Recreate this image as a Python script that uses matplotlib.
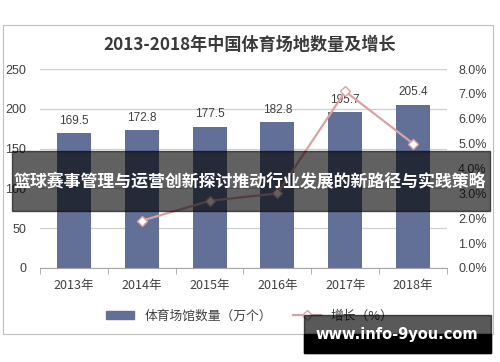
import matplotlib.pyplot as plt
from matplotlib.patches import Rectangle
from matplotlib.lines import Line2D
import numpy as np

plt.rcParams['font.family'] = ['Noto Sans CJK SC', 'DejaVu Sans']

years = ['2013年', '2014年', '2015年', '2016年', '2017年', '2018年']
venues = [169.5, 172.8, 177.5, 182.8, 195.7, 205.4]
growth_years = [1, 2, 3, 4, 5]
growth = [1.9, 2.7, 3.0, 7.1, 5.0]

W, H = 500, 362
fig = plt.figure(figsize=(5, 3.62), dpi=100)

def fx(px):
    return px / W

def fy(py):
    return 1 - py / H

# chart frame
fig.patches.append(Rectangle((fx(3), fy(334)), fx(490), 309 / H, transform=fig.transFigure,
                             fill=False, edgecolor='#bfbfbf', linewidth=0.8))

fig.text(0.5, fy(45), '2013-2018年中国体育场地数量及增长', ha='center', va='center',
         fontsize=12.3, fontweight='bold', color='#3a3a3a')

ax = fig.add_axes([fx(40), fy(268), fx(407), 199 / H])
x = np.arange(len(years))
bar_color = '#626f97'
ax.bar(x, venues, width=0.5, color=bar_color, zorder=2)
for xi, v in zip(x, venues):
    ax.text(xi, v + 8, f'{v}', ha='center', va='bottom', fontsize=8.5, color='#404040',
            family='Liberation Sans', zorder=4)
ax.set_xlim(-0.5, 5.5)
ax.set_ylim(0, 250)
ax.set_yticks([0, 50, 100, 150, 200, 250])
ax.grid(axis='y', color='#d0d0d0', linewidth=0.9, zorder=0)
for s in ['top', 'right', 'left']:
    ax.spines[s].set_visible(False)
ax.spines['bottom'].set_color('#a6a6a6')
ax.set_xticks(x)
ax.set_xticklabels(years)
ax.set_xticks(np.arange(-0.5, 6, 1), minor=True)
ax.tick_params(axis='x', which='major', length=0, pad=8, labelsize=9, colors='#404040')
ax.tick_params(axis='x', which='minor', length=4, color='#a6a6a6', direction='out')
ax.tick_params(axis='y', length=0, pad=10, labelsize=9, colors='#404040')
for lab in ax.get_yticklabels():
    lab.set_family('Liberation Sans')

ax2 = ax.twinx()
line_color = '#d9a3a5'
ax2.plot(growth_years, growth, color=line_color, linewidth=1.6, marker='D', markersize=5,
         markerfacecolor='white', markeredgecolor=line_color, markeredgewidth=1.0, zorder=3)
ax2.set_ylim(0, 8)
ax2.set_yticks(np.arange(0, 9, 1))
ax2.set_yticklabels([f'{v:.1f}%' for v in range(9)], family='Liberation Sans')
ax2.tick_params(axis='y', length=0, pad=8, labelsize=9, colors='#404040')
for s in ['top', 'right', 'left', 'bottom']:
    ax2.spines[s].set_visible(False)

# legend
handles = [Rectangle((0, 0), 1, 1, color=bar_color),
           Line2D([], [], color=line_color, linewidth=1.6, marker='D', markersize=5,
                  markerfacecolor='white', markeredgecolor=line_color)]
fig.legend(handles, ['体育场馆数量（万个）', '增长（%）'], loc='center',
           bbox_to_anchor=(0.5, fy(316)), ncol=2, frameon=False, fontsize=9.2,
           handlelength=2.2, handleheight=0.5, columnspacing=1.6, labelcolor='#404040')

# overlay banner
fig.patches.append(Rectangle((fx(12), fy(211)), fx(478), 60 / H, transform=fig.transFigure,
                             color='black', alpha=0.62, zorder=10))
fig.text(0.5, fy(182), '篮球赛事管理与运营创新探讨推动行业发展的新路径与实践策略', ha='center',
         va='center', fontsize=12.2, fontweight='bold', color='white', zorder=11)

# watermark
fig.patches.append(Rectangle((fx(304), fy(353)), fx(187), 38 / H, transform=fig.transFigure,
                             color='black', alpha=0.65, zorder=10))
fig.patches.append(Rectangle((fx(304), fy(353)), fx(187), 19 / H, transform=fig.transFigure,
                             color='black', zorder=10))
fig.text(fx(397), fy(334), 'www.info-9you.com', ha='center', va='center', fontsize=10.5,
         fontweight='bold', color='white', family='DejaVu Sans', zorder=11)

fig.savefig('out.png', dpi=100)
